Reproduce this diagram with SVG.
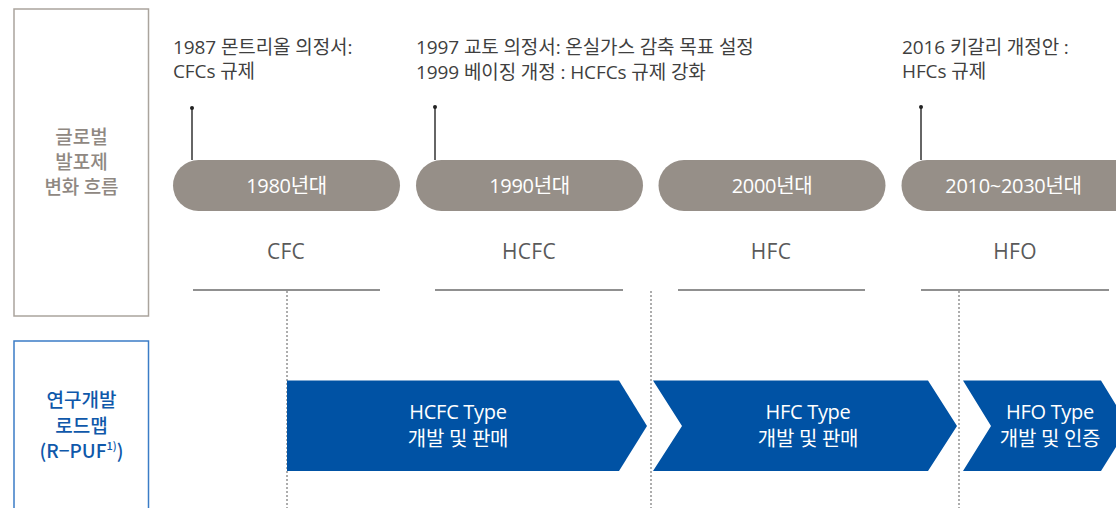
<svg xmlns="http://www.w3.org/2000/svg" width="1116" height="508" viewBox="0 0 1116 508">
<style>
text{font-family:"Open Sans","Noto Sans CJK KR",sans-serif}
.note{font-size:19px;fill:#3f3f3f;letter-spacing:-0.1px}
.pilltx{font-size:20px;fill:#fff;text-anchor:middle;letter-spacing:-0.3px}
.pill{fill:#968f88}
.cat{font-size:21px;fill:#5a5a5a;text-anchor:middle;letter-spacing:0.3px}
.hline{stroke:#6b6b6b;stroke-width:1.5}
.dot{stroke:#777;stroke-width:1.2;stroke-dasharray:2 2}
.stem{stroke:#333;stroke-width:1.5}
.arrow{fill:#0052a4}
.atx{font-size:20px;fill:#fff;text-anchor:middle;letter-spacing:-0.3px}
.lbl1{font-family:"Noto Sans CJK KR",sans-serif;font-size:19px;fill:#8f8882;text-anchor:middle;font-weight:500}
.lbl2{font-family:"Noto Sans CJK KR",sans-serif;font-size:19px;fill:#0f58aa;text-anchor:middle;font-weight:500}
</style>
<g id="label-global">
<rect x="14" y="9" width="134.5" height="307" fill="#fff" stroke="#aaa49d" stroke-width="1.5"/>
<text class="lbl1" x="81.5" y="144">글로벌</text>
<text class="lbl1" x="81.5" y="169">발포제</text>
<text class="lbl1" x="81.5" y="194">변화 흐름</text>
</g>
<g id="label-rpuf">
<rect x="14" y="341" width="134.5" height="180" fill="#fff" stroke="#3b7cc6" stroke-width="1.5"/>
<text class="lbl2" x="81.5" y="407">연구개발</text>
<text class="lbl2" x="81.5" y="433">로드맵</text>
<text class="lbl2" x="81.5" y="458">(R−PUF<tspan font-size="11" dy="-8">1)</tspan><tspan dy="8">)</tspan></text>
</g>
<g id="connectors">
<line class="stem" x1="192" y1="108" x2="192" y2="160"/><circle cx="192" cy="108" r="2" fill="#222"/>
<line class="stem" x1="435" y1="107" x2="435" y2="160"/><circle cx="435" cy="107" r="2" fill="#222"/>
<line class="stem" x1="921" y1="107" x2="921" y2="160"/><circle cx="921" cy="107" r="2" fill="#222"/>
<line class="hline" x1="193" y1="290" x2="380" y2="290"/>
<line class="hline" x1="435" y1="290" x2="623" y2="290"/>
<line class="hline" x1="678" y1="290" x2="865" y2="290"/>
<line class="hline" x1="921" y1="290" x2="1109" y2="290"/>
<line class="dot" x1="287" y1="291" x2="287" y2="508"/>
<line class="dot" x1="651" y1="291" x2="651" y2="508"/>
<line class="dot" x1="959" y1="291" x2="959" y2="508"/>
</g>
<g id="note-1987">
<text class="note" x="173" y="54">1987 몬트리올 의정서:</text>
<text class="note" x="173" y="78">CFCs 규제</text>
</g>
<g id="note-1997">
<text class="note" x="416" y="54">1997 교토 의정서: 온실가스 감축 목표 설정</text>
<text class="note" x="416" y="79">1999 베이징 개정 : HCFCs 규제 강화</text>
</g>
<g id="note-2016">
<text class="note" x="902" y="54">2016 키갈리 개정안 :</text>
<text class="note" x="902" y="78">HFCs 규제</text>
</g>
<g id="era-1980">
<rect class="pill" x="173" y="160" width="227" height="51" rx="25.5"/>
<text class="pilltx" x="286.5" y="193">1980년대</text>
<text class="cat" x="286" y="259">CFC</text>
</g>
<g id="era-1990">
<rect class="pill" x="416" y="160" width="227" height="51" rx="25.5"/>
<text class="pilltx" x="529.5" y="193">1990년대</text>
<text class="cat" x="529" y="259">HCFC</text>
</g>
<g id="era-2000">
<rect class="pill" x="658.5" y="160" width="227" height="51" rx="25.5"/>
<text class="pilltx" x="772" y="193">2000년대</text>
<text class="cat" x="771" y="259">HFC</text>
</g>
<g id="era-2010">
<rect class="pill" x="901.5" y="160" width="240" height="51" rx="25.5"/>
<text class="pilltx" x="1013.5" y="193">2010~2030년대</text>
<text class="cat" x="1015" y="259">HFO</text>
</g>
<g id="rd-hcfc">
<polygon class="arrow" points="287,380.5 619,380.5 647,426 619,471 287,471"/>
<text class="atx" x="458" y="419">HCFC Type</text>
<text class="atx" x="458" y="446">개발 및 판매</text>
</g>
<g id="rd-hfc">
<polygon class="arrow" points="653,380.5 928,380.5 957,426 928,471 653,471 682,426"/>
<text class="atx" x="808" y="419">HFC Type</text>
<text class="atx" x="808" y="446">개발 및 판매</text>
</g>
<g id="rd-hfo">
<polygon class="arrow" points="963,380.5 1101,380.5 1129,426 1101,471 963,471 991,426"/>
<text class="atx" x="1050" y="419">HFO Type</text>
<text class="atx" x="1050" y="446">개발 및 인증</text>
</g>
</svg>
